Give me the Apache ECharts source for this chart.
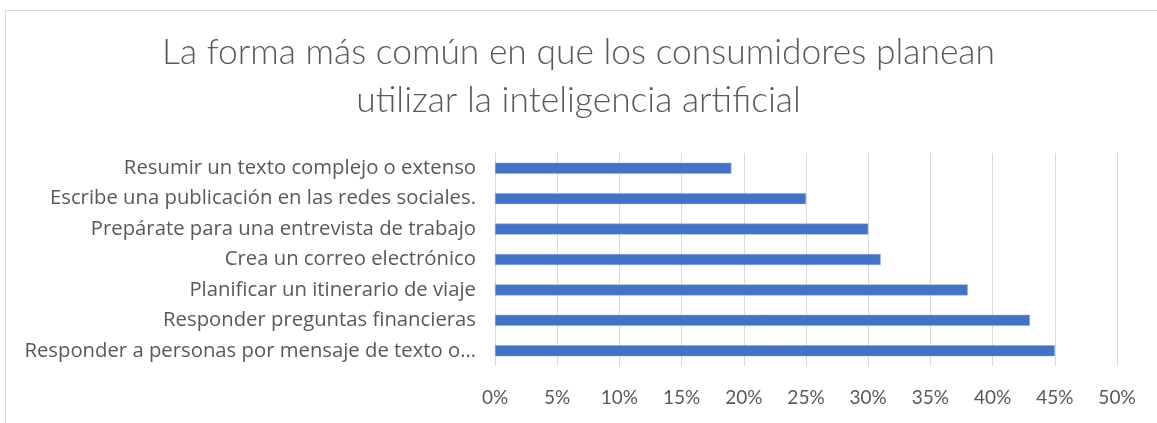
<!DOCTYPE html>
<html><head><meta charset="utf-8">
<script src="https://cdn.jsdelivr.net/npm/echarts@6/dist/echarts.min.js"></script>
<style>html,body{margin:0;padding:0;background:#fff}#c{width:1157px;height:423px}</style>
</head><body><div id="c"></div>
<script>
const titleText = "La forma más común en que los consumidores planean\nutilizar la inteligencia artificial";
const categories = [
  "Responder a personas por mensaje de texto o…",
  "Responder preguntas financieras",
  "Planificar un itinerario de viaje",
  "Crea un correo electrónico",
  "Prepárate para una entrevista de trabajo",
  "Escribe una publicación en las redes sociales.",
  "Resumir un texto complejo o extenso"
];
const values = [45, 43, 38, 31, 30, 25, 19];
const xMin = 0, xMax = 50, xStep = 5;

const chart = echarts.init(document.getElementById('c'));
chart.setOption({
  animation: false,
  textStyle: {fontFamily: 'Open Sans'},
  graphic: [{
    type: 'rect', left: 3, top: 8,
    shape: {width: 1170, height: 430},
    style: {fill: 'none', stroke: '#d9d9d9', lineWidth: 1}
  }],
  title: {
    text: titleText, left: 'center', top: 24,
    padding: [5, 5, 5, 18],
    textStyle: {fontFamily: 'Lato', fontSize: 35.4, fontWeight: 300, color: '#595959', lineHeight: 48}
  },
  grid: {left: 495, right: 40, top: 153, bottom: 57},
  xAxis: {
    type: 'value', min: xMin, max: xMax, interval: xStep,
    axisLabel: {formatter: v => v + '%', fontSize: 19, color: '#595959', margin: 22, fontFamily: 'Lato'},
    splitLine: {lineStyle: {color: '#d9d9d9', width: 1}},
    axisLine: {show: false}, axisTick: {show: false}
  },
  yAxis: {
    type: 'category', data: categories,
    axisLabel: {fontSize: 20.3, color: '#595959', margin: 19, fontFamily: 'Open Sans'},
    axisLine: {show: true, lineStyle: {color: '#d9d9d9'}},
    axisTick: {show: false}
  },
  series: [{
    type: 'bar', data: values, barWidth: 11,
    itemStyle: {color: '#4472C4', borderColor: '#8faadc', borderWidth: 0.5}
  }]
});
</script></body></html>
